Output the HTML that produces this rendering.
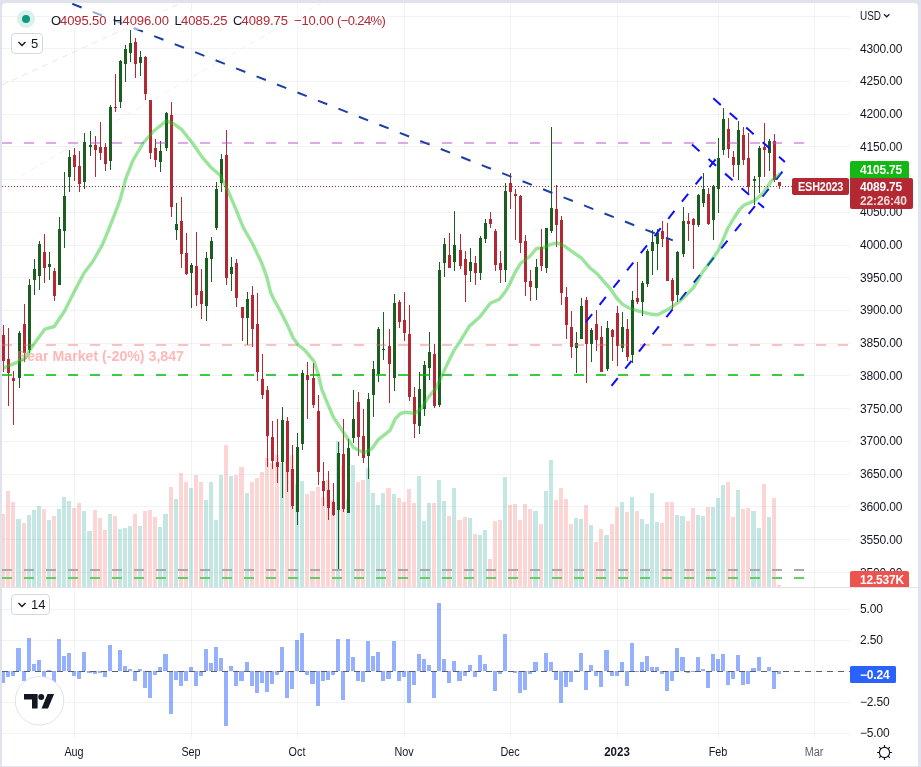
<!DOCTYPE html>
<html lang="en">
<head>
<meta charset="utf-8">
<title>ESH2023 daily chart</title>
<style>
html,body{margin:0;padding:0}
body{width:921px;height:767px;background:#e0e3eb;position:relative;overflow:hidden;font-family:"Liberation Sans",sans-serif;color:#131722}
#card{position:absolute;left:2px;top:3px;width:916px;height:763px;background:#fff;border-radius:4px 4px 0 0}
#chart{position:absolute;left:0;top:0;width:921px;height:767px}
.t{position:absolute;white-space:nowrap;font-size:12px;line-height:15px;letter-spacing:-0.17px}
.ax{color:#131722}
.tm{color:#131722;letter-spacing:0}
.b{font-weight:bold}
.box{position:absolute;color:#fff;font-weight:bold;font-size:12px;line-height:15px;white-space:nowrap;box-sizing:border-box;letter-spacing:-0.2px}
#legend{position:absolute;left:49px;top:10px;height:20px;width:340px;background:rgba(255,255,255,0.55)}
#legend span{position:absolute;top:3px;font-size:13px;line-height:16px;white-space:nowrap;letter-spacing:-0.1px}
.k{color:#131722}
.v{color:#b22833}
.sq{display:inline-block;transform-origin:0 50%}
.btn{position:absolute;box-sizing:border-box;border:1px solid #d5d8e0;border-radius:4px;background:#fff;height:21px;font-size:13px;line-height:19px;color:#131722}
.btn svg{position:absolute;left:4.5px;top:6px}
.btn span{position:absolute;top:0}
</style>
</head>
<body>
<div id="card"></div>
<svg id="chart" width="921" height="767" viewBox="0 0 921 767">
<defs>
<clipPath id="cm"><rect x="2" y="3" width="848" height="584"/></clipPath>
</defs>
<g fill="#2a2e39" fill-opacity="0.06" shape-rendering="crispEdges"><rect x="2" y="16" width="848" height="1"/><rect x="2" y="48" width="848" height="1"/><rect x="2" y="81" width="848" height="1"/><rect x="2" y="114" width="848" height="1"/><rect x="2" y="146" width="848" height="1"/><rect x="2" y="179" width="848" height="1"/><rect x="2" y="212" width="848" height="1"/><rect x="2" y="245" width="848" height="1"/><rect x="2" y="277" width="848" height="1"/><rect x="2" y="310" width="848" height="1"/><rect x="2" y="343" width="848" height="1"/><rect x="2" y="375" width="848" height="1"/><rect x="2" y="408" width="848" height="1"/><rect x="2" y="441" width="848" height="1"/><rect x="2" y="474" width="848" height="1"/><rect x="2" y="506" width="848" height="1"/><rect x="2" y="539" width="848" height="1"/><rect x="2" y="572" width="848" height="1"/><rect x="2" y="609" width="848" height="1"/><rect x="2" y="640" width="848" height="1"/><rect x="2" y="671" width="848" height="1"/><rect x="2" y="702" width="848" height="1"/><rect x="2" y="733" width="848" height="1"/><rect x="74" y="3" width="1" height="735"/><rect x="191" y="3" width="1" height="735"/><rect x="297" y="3" width="1" height="735"/><rect x="404" y="3" width="1" height="735"/><rect x="510" y="3" width="1" height="735"/><rect x="617" y="3" width="1" height="735"/><rect x="718" y="3" width="1" height="735"/><rect x="814" y="3" width="1" height="735"/></g>
<g shape-rendering="crispEdges"><g fill="#26a69a" fill-opacity="0.27"><rect x="16" y="519" width="5" height="68"/><rect x="27" y="515" width="4" height="72"/><rect x="32" y="510" width="4" height="77"/><rect x="37" y="506" width="4" height="81"/><rect x="47" y="520" width="4" height="67"/><rect x="57" y="509" width="4" height="78"/><rect x="62" y="497" width="4" height="90"/><rect x="67" y="501" width="4" height="86"/><rect x="82" y="511" width="4" height="76"/><rect x="87" y="531" width="5" height="56"/><rect x="108" y="514" width="4" height="73"/><rect x="118" y="529" width="4" height="58"/><rect x="123" y="528" width="4" height="59"/><rect x="128" y="526" width="4" height="61"/><rect x="138" y="526" width="4" height="61"/><rect x="158" y="527" width="4" height="60"/><rect x="163" y="514" width="5" height="73"/><rect x="174" y="499" width="4" height="88"/><rect x="189" y="488" width="4" height="99"/><rect x="204" y="500" width="4" height="87"/><rect x="209" y="482" width="4" height="105"/><rect x="214" y="520" width="4" height="67"/><rect x="219" y="475" width="4" height="112"/><rect x="229" y="476" width="4" height="111"/><rect x="245" y="493" width="4" height="94"/><rect x="280" y="463" width="4" height="124"/><rect x="295" y="484" width="4" height="103"/><rect x="300" y="481" width="4" height="106"/><rect x="336" y="441" width="4" height="146"/><rect x="346" y="499" width="4" height="88"/><rect x="351" y="465" width="4" height="122"/><rect x="366" y="468" width="4" height="119"/><rect x="371" y="493" width="4" height="94"/><rect x="376" y="505" width="4" height="82"/><rect x="381" y="493" width="4" height="94"/><rect x="392" y="494" width="4" height="93"/><rect x="417" y="476" width="4" height="111"/><rect x="422" y="521" width="4" height="66"/><rect x="427" y="503" width="4" height="84"/><rect x="437" y="480" width="4" height="107"/><rect x="442" y="501" width="4" height="86"/><rect x="452" y="488" width="4" height="99"/><rect x="468" y="518" width="4" height="69"/><rect x="478" y="535" width="4" height="52"/><rect x="483" y="530" width="4" height="57"/><rect x="503" y="477" width="4" height="110"/><rect x="533" y="511" width="5" height="76"/><rect x="544" y="491" width="4" height="96"/><rect x="549" y="460" width="4" height="127"/><rect x="574" y="518" width="4" height="69"/><rect x="579" y="519" width="4" height="68"/><rect x="589" y="525" width="4" height="62"/><rect x="604" y="535" width="5" height="52"/><rect x="620" y="502" width="4" height="85"/><rect x="630" y="497" width="4" height="90"/><rect x="640" y="519" width="4" height="68"/><rect x="645" y="524" width="4" height="63"/><rect x="650" y="493" width="4" height="94"/><rect x="655" y="522" width="4" height="65"/><rect x="675" y="515" width="4" height="72"/><rect x="680" y="516" width="5" height="71"/><rect x="696" y="515" width="4" height="72"/><rect x="701" y="516" width="4" height="71"/><rect x="711" y="507" width="4" height="80"/><rect x="716" y="498" width="4" height="89"/><rect x="721" y="485" width="4" height="102"/><rect x="736" y="490" width="4" height="97"/><rect x="751" y="511" width="5" height="76"/><rect x="757" y="528" width="4" height="59"/><rect x="767" y="517" width="4" height="70"/></g><g fill="#ef5350" fill-opacity="0.24"><rect x="2" y="514" width="3" height="73"/><rect x="6" y="491" width="4" height="96"/><rect x="11" y="502" width="4" height="85"/><rect x="22" y="523" width="4" height="64"/><rect x="42" y="509" width="4" height="78"/><rect x="52" y="516" width="4" height="71"/><rect x="72" y="508" width="4" height="79"/><rect x="77" y="503" width="4" height="84"/><rect x="93" y="510" width="4" height="77"/><rect x="98" y="518" width="4" height="69"/><rect x="103" y="530" width="4" height="57"/><rect x="113" y="516" width="4" height="71"/><rect x="133" y="514" width="4" height="73"/><rect x="143" y="511" width="4" height="76"/><rect x="148" y="510" width="4" height="77"/><rect x="153" y="517" width="4" height="70"/><rect x="169" y="487" width="4" height="100"/><rect x="179" y="473" width="4" height="114"/><rect x="184" y="482" width="4" height="105"/><rect x="194" y="475" width="4" height="112"/><rect x="199" y="482" width="4" height="105"/><rect x="224" y="445" width="4" height="142"/><rect x="234" y="475" width="4" height="112"/><rect x="239" y="467" width="5" height="120"/><rect x="250" y="482" width="4" height="105"/><rect x="255" y="478" width="4" height="109"/><rect x="260" y="472" width="4" height="115"/><rect x="265" y="458" width="4" height="129"/><rect x="270" y="463" width="4" height="124"/><rect x="275" y="455" width="4" height="132"/><rect x="285" y="460" width="4" height="127"/><rect x="290" y="455" width="4" height="132"/><rect x="305" y="494" width="4" height="93"/><rect x="310" y="491" width="5" height="96"/><rect x="316" y="487" width="4" height="100"/><rect x="321" y="497" width="4" height="90"/><rect x="326" y="480" width="4" height="107"/><rect x="331" y="500" width="4" height="87"/><rect x="341" y="466" width="4" height="121"/><rect x="356" y="482" width="4" height="105"/><rect x="361" y="480" width="4" height="107"/><rect x="386" y="488" width="5" height="99"/><rect x="397" y="498" width="4" height="89"/><rect x="402" y="502" width="4" height="85"/><rect x="407" y="489" width="4" height="98"/><rect x="412" y="503" width="4" height="84"/><rect x="432" y="503" width="4" height="84"/><rect x="447" y="516" width="4" height="71"/><rect x="457" y="520" width="5" height="67"/><rect x="463" y="517" width="4" height="70"/><rect x="473" y="534" width="4" height="53"/><rect x="488" y="559" width="4" height="28"/><rect x="493" y="521" width="4" height="66"/><rect x="498" y="520" width="4" height="67"/><rect x="508" y="505" width="4" height="82"/><rect x="513" y="504" width="4" height="83"/><rect x="518" y="520" width="4" height="67"/><rect x="523" y="504" width="4" height="83"/><rect x="528" y="509" width="4" height="78"/><rect x="539" y="524" width="4" height="63"/><rect x="554" y="500" width="4" height="87"/><rect x="559" y="488" width="4" height="99"/><rect x="564" y="499" width="4" height="88"/><rect x="569" y="524" width="4" height="63"/><rect x="584" y="505" width="4" height="82"/><rect x="594" y="542" width="4" height="45"/><rect x="599" y="529" width="4" height="58"/><rect x="610" y="524" width="4" height="63"/><rect x="615" y="507" width="4" height="80"/><rect x="625" y="512" width="4" height="75"/><rect x="635" y="511" width="4" height="76"/><rect x="660" y="523" width="4" height="64"/><rect x="665" y="502" width="4" height="85"/><rect x="670" y="502" width="4" height="85"/><rect x="686" y="521" width="4" height="66"/><rect x="691" y="508" width="4" height="79"/><rect x="706" y="507" width="4" height="80"/><rect x="726" y="482" width="4" height="105"/><rect x="731" y="517" width="4" height="70"/><rect x="741" y="509" width="4" height="78"/><rect x="746" y="508" width="4" height="79"/><rect x="762" y="484" width="4" height="103"/><rect x="772" y="498" width="4" height="89"/><rect x="777" y="585" width="4" height="2"/></g></g>
<g stroke-width="1" stroke-dasharray="6 5" fill="none" clip-path="url(#cm)"><line x1="2" y1="85" x2="181" y2="3" stroke="#e7e7e7"/><line x1="2" y1="186.6" x2="321" y2="3" stroke="#f1f1f1"/></g>
<g shape-rendering="crispEdges" clip-path="url(#cm)"><g fill="#1b5e20"><rect x="19" y="331" width="1" height="57"/><rect x="18" y="333" width="3" height="45"/><rect x="29" y="279" width="1" height="74"/><rect x="28" y="285" width="3" height="65"/><rect x="34" y="259" width="1" height="36"/><rect x="33" y="269" width="3" height="11"/><rect x="39" y="241" width="1" height="49"/><rect x="38" y="244" width="3" height="32"/><rect x="49" y="252" width="1" height="28"/><rect x="48" y="264" width="3" height="3"/><rect x="59" y="217" width="1" height="68"/><rect x="58" y="229" width="3" height="56"/><rect x="64" y="172" width="1" height="76"/><rect x="63" y="196" width="3" height="35"/><rect x="69" y="150" width="1" height="42"/><rect x="68" y="157" width="3" height="20"/><rect x="84" y="133" width="1" height="56"/><rect x="83" y="142" width="3" height="40"/><rect x="90" y="131" width="1" height="25"/><rect x="89" y="145" width="3" height="2"/><rect x="110" y="105" width="1" height="65"/><rect x="109" y="107" width="3" height="54"/><rect x="120" y="60" width="1" height="48"/><rect x="119" y="61" width="3" height="41"/><rect x="125" y="45" width="1" height="37"/><rect x="124" y="49" width="3" height="15"/><rect x="130" y="30" width="1" height="32"/><rect x="129" y="43" width="3" height="10"/><rect x="140" y="51" width="1" height="25"/><rect x="139" y="57" width="3" height="6"/><rect x="160" y="141" width="1" height="31"/><rect x="159" y="151" width="3" height="11"/><rect x="166" y="112" width="1" height="39"/><rect x="165" y="113" width="3" height="35"/><rect x="176" y="203" width="1" height="37"/><rect x="175" y="224" width="3" height="6"/><rect x="191" y="263" width="1" height="45"/><rect x="190" y="265" width="3" height="8"/><rect x="206" y="252" width="1" height="69"/><rect x="205" y="258" width="3" height="48"/><rect x="211" y="237" width="1" height="45"/><rect x="210" y="241" width="3" height="18"/><rect x="216" y="182" width="1" height="48"/><rect x="215" y="189" width="3" height="39"/><rect x="221" y="154" width="1" height="38"/><rect x="220" y="159" width="3" height="24"/><rect x="231" y="257" width="1" height="34"/><rect x="230" y="267" width="3" height="7"/><rect x="247" y="292" width="1" height="53"/><rect x="246" y="299" width="3" height="19"/><rect x="282" y="407" width="1" height="91"/><rect x="281" y="420" width="3" height="42"/><rect x="297" y="433" width="1" height="92"/><rect x="296" y="447" width="3" height="65"/><rect x="302" y="370" width="1" height="80"/><rect x="301" y="373" width="3" height="71"/><rect x="338" y="442" width="1" height="127"/><rect x="337" y="453" width="3" height="57"/><rect x="348" y="439" width="1" height="74"/><rect x="347" y="448" width="3" height="65"/><rect x="353" y="390" width="1" height="53"/><rect x="352" y="419" width="3" height="19"/><rect x="368" y="393" width="1" height="86"/><rect x="367" y="399" width="3" height="57"/><rect x="373" y="361" width="1" height="56"/><rect x="372" y="369" width="3" height="26"/><rect x="378" y="327" width="1" height="55"/><rect x="377" y="329" width="3" height="45"/><rect x="383" y="312" width="1" height="48"/><rect x="382" y="349" width="3" height="1"/><rect x="394" y="294" width="1" height="97"/><rect x="393" y="303" width="3" height="75"/><rect x="419" y="372" width="1" height="62"/><rect x="418" y="389" width="3" height="37"/><rect x="424" y="361" width="1" height="55"/><rect x="423" y="365" width="3" height="44"/><rect x="429" y="332" width="1" height="48"/><rect x="428" y="352" width="3" height="16"/><rect x="439" y="262" width="1" height="145"/><rect x="438" y="270" width="3" height="135"/><rect x="444" y="238" width="1" height="39"/><rect x="443" y="244" width="3" height="19"/><rect x="454" y="211" width="1" height="60"/><rect x="453" y="245" width="3" height="17"/><rect x="470" y="248" width="1" height="34"/><rect x="469" y="262" width="3" height="9"/><rect x="480" y="236" width="1" height="44"/><rect x="479" y="238" width="3" height="35"/><rect x="485" y="219" width="1" height="24"/><rect x="484" y="223" width="3" height="16"/><rect x="505" y="183" width="1" height="99"/><rect x="504" y="191" width="3" height="79"/><rect x="536" y="259" width="1" height="41"/><rect x="535" y="267" width="3" height="21"/><rect x="546" y="228" width="1" height="45"/><rect x="545" y="228" width="3" height="40"/><rect x="551" y="127" width="1" height="106"/><rect x="550" y="208" width="3" height="23"/><rect x="576" y="332" width="1" height="41"/><rect x="575" y="343" width="3" height="5"/><rect x="581" y="298" width="1" height="41"/><rect x="580" y="306" width="3" height="33"/><rect x="591" y="328" width="1" height="34"/><rect x="590" y="330" width="3" height="14"/><rect x="607" y="321" width="1" height="50"/><rect x="606" y="328" width="3" height="41"/><rect x="622" y="312" width="1" height="40"/><rect x="621" y="327" width="3" height="21"/><rect x="632" y="291" width="1" height="72"/><rect x="631" y="300" width="3" height="55"/><rect x="642" y="281" width="1" height="35"/><rect x="641" y="283" width="3" height="19"/><rect x="647" y="249" width="1" height="38"/><rect x="646" y="251" width="3" height="33"/><rect x="652" y="230" width="1" height="45"/><rect x="651" y="242" width="3" height="9"/><rect x="657" y="229" width="1" height="41"/><rect x="656" y="233" width="3" height="11"/><rect x="677" y="251" width="1" height="51"/><rect x="676" y="252" width="3" height="43"/><rect x="683" y="207" width="1" height="50"/><rect x="682" y="221" width="3" height="33"/><rect x="698" y="194" width="1" height="33"/><rect x="697" y="195" width="3" height="30"/><rect x="703" y="173" width="1" height="34"/><rect x="702" y="189" width="3" height="14"/><rect x="713" y="185" width="1" height="55"/><rect x="712" y="186" width="3" height="34"/><rect x="718" y="138" width="1" height="75"/><rect x="717" y="158" width="3" height="31"/><rect x="723" y="108" width="1" height="47"/><rect x="722" y="119" width="3" height="31"/><rect x="738" y="121" width="1" height="59"/><rect x="737" y="130" width="3" height="35"/><rect x="754" y="176" width="1" height="29"/><rect x="753" y="179" width="3" height="2"/><rect x="759" y="146" width="1" height="47"/><rect x="758" y="148" width="3" height="29"/><rect x="769" y="139" width="1" height="32"/><rect x="768" y="141" width="3" height="12"/></g><g fill="#b22833"><rect x="3" y="325" width="1" height="47"/><rect x="2" y="335" width="3" height="26"/><rect x="8" y="328" width="1" height="78"/><rect x="7" y="359" width="3" height="14"/><rect x="13" y="371" width="1" height="54"/><rect x="12" y="378" width="3" height="3"/><rect x="24" y="304" width="1" height="58"/><rect x="23" y="324" width="3" height="29"/><rect x="44" y="234" width="1" height="49"/><rect x="43" y="252" width="3" height="16"/><rect x="54" y="268" width="1" height="33"/><rect x="53" y="271" width="3" height="25"/><rect x="74" y="148" width="1" height="33"/><rect x="73" y="155" width="3" height="12"/><rect x="79" y="151" width="1" height="41"/><rect x="78" y="166" width="3" height="18"/><rect x="95" y="136" width="1" height="41"/><rect x="94" y="145" width="3" height="5"/><rect x="100" y="122" width="1" height="38"/><rect x="99" y="147" width="3" height="6"/><rect x="105" y="143" width="1" height="28"/><rect x="104" y="147" width="3" height="17"/><rect x="115" y="74" width="1" height="38"/><rect x="114" y="107" width="3" height="1"/><rect x="135" y="38" width="1" height="40"/><rect x="134" y="42" width="3" height="22"/><rect x="145" y="56" width="1" height="44"/><rect x="144" y="57" width="3" height="37"/><rect x="150" y="100" width="1" height="59"/><rect x="149" y="100" width="3" height="53"/><rect x="155" y="139" width="1" height="28"/><rect x="154" y="148" width="3" height="12"/><rect x="171" y="102" width="1" height="115"/><rect x="170" y="115" width="3" height="92"/><rect x="181" y="197" width="1" height="71"/><rect x="180" y="221" width="3" height="33"/><rect x="186" y="233" width="1" height="42"/><rect x="185" y="253" width="3" height="21"/><rect x="196" y="232" width="1" height="74"/><rect x="195" y="266" width="3" height="29"/><rect x="201" y="269" width="1" height="50"/><rect x="200" y="291" width="3" height="13"/><rect x="226" y="130" width="1" height="155"/><rect x="225" y="155" width="3" height="123"/><rect x="236" y="259" width="1" height="48"/><rect x="235" y="263" width="3" height="35"/><rect x="242" y="307" width="1" height="34"/><rect x="241" y="307" width="3" height="11"/><rect x="252" y="286" width="1" height="61"/><rect x="251" y="295" width="3" height="34"/><rect x="257" y="293" width="1" height="88"/><rect x="256" y="324" width="3" height="48"/><rect x="262" y="354" width="1" height="45"/><rect x="261" y="379" width="3" height="16"/><rect x="267" y="386" width="1" height="81"/><rect x="266" y="390" width="3" height="46"/><rect x="272" y="421" width="1" height="48"/><rect x="271" y="437" width="3" height="24"/><rect x="277" y="419" width="1" height="64"/><rect x="276" y="462" width="3" height="5"/><rect x="287" y="417" width="1" height="75"/><rect x="286" y="421" width="3" height="51"/><rect x="292" y="445" width="1" height="64"/><rect x="291" y="469" width="3" height="37"/><rect x="307" y="362" width="1" height="57"/><rect x="306" y="375" width="3" height="5"/><rect x="313" y="363" width="1" height="45"/><rect x="312" y="378" width="3" height="27"/><rect x="318" y="395" width="1" height="90"/><rect x="317" y="411" width="3" height="61"/><rect x="323" y="462" width="1" height="44"/><rect x="322" y="481" width="3" height="10"/><rect x="328" y="471" width="1" height="49"/><rect x="327" y="490" width="3" height="18"/><rect x="333" y="483" width="1" height="33"/><rect x="332" y="502" width="3" height="13"/><rect x="343" y="419" width="1" height="93"/><rect x="342" y="454" width="3" height="55"/><rect x="358" y="392" width="1" height="64"/><rect x="357" y="402" width="3" height="35"/><rect x="363" y="409" width="1" height="54"/><rect x="362" y="436" width="3" height="22"/><rect x="389" y="329" width="1" height="74"/><rect x="388" y="346" width="3" height="18"/><rect x="399" y="300" width="1" height="28"/><rect x="398" y="302" width="3" height="20"/><rect x="404" y="292" width="1" height="49"/><rect x="403" y="320" width="3" height="13"/><rect x="409" y="305" width="1" height="96"/><rect x="408" y="334" width="3" height="63"/><rect x="414" y="387" width="1" height="51"/><rect x="413" y="397" width="3" height="27"/><rect x="434" y="344" width="1" height="64"/><rect x="433" y="354" width="3" height="52"/><rect x="449" y="233" width="1" height="35"/><rect x="448" y="255" width="3" height="13"/><rect x="460" y="234" width="1" height="35"/><rect x="459" y="250" width="3" height="16"/><rect x="465" y="251" width="1" height="51"/><rect x="464" y="259" width="3" height="16"/><rect x="475" y="256" width="1" height="29"/><rect x="474" y="263" width="3" height="10"/><rect x="490" y="212" width="1" height="16"/><rect x="489" y="219" width="3" height="5"/><rect x="495" y="229" width="1" height="42"/><rect x="494" y="231" width="3" height="34"/><rect x="500" y="251" width="1" height="32"/><rect x="499" y="263" width="3" height="7"/><rect x="510" y="173" width="1" height="36"/><rect x="509" y="183" width="3" height="9"/><rect x="515" y="189" width="1" height="51"/><rect x="514" y="194" width="3" height="2"/><rect x="520" y="195" width="1" height="58"/><rect x="519" y="196" width="3" height="47"/><rect x="525" y="235" width="1" height="61"/><rect x="524" y="241" width="3" height="41"/><rect x="530" y="270" width="1" height="31"/><rect x="529" y="281" width="3" height="6"/><rect x="541" y="229" width="1" height="42"/><rect x="540" y="247" width="3" height="19"/><rect x="556" y="185" width="1" height="62"/><rect x="555" y="209" width="3" height="16"/><rect x="561" y="216" width="1" height="89"/><rect x="560" y="220" width="3" height="73"/><rect x="566" y="287" width="1" height="52"/><rect x="565" y="297" width="3" height="28"/><rect x="571" y="311" width="1" height="47"/><rect x="570" y="327" width="3" height="20"/><rect x="586" y="297" width="1" height="86"/><rect x="585" y="300" width="3" height="44"/><rect x="596" y="310" width="1" height="41"/><rect x="595" y="324" width="3" height="16"/><rect x="601" y="326" width="1" height="46"/><rect x="600" y="337" width="3" height="35"/><rect x="612" y="329" width="1" height="32"/><rect x="611" y="330" width="3" height="7"/><rect x="617" y="306" width="1" height="60"/><rect x="616" y="313" width="3" height="33"/><rect x="627" y="319" width="1" height="42"/><rect x="626" y="329" width="3" height="28"/><rect x="637" y="262" width="1" height="42"/><rect x="636" y="298" width="3" height="4"/><rect x="662" y="221" width="1" height="26"/><rect x="661" y="231" width="3" height="8"/><rect x="667" y="223" width="1" height="58"/><rect x="666" y="239" width="3" height="42"/><rect x="672" y="278" width="1" height="31"/><rect x="671" y="280" width="3" height="21"/><rect x="688" y="213" width="1" height="28"/><rect x="687" y="221" width="3" height="3"/><rect x="693" y="218" width="1" height="51"/><rect x="692" y="219" width="3" height="6"/><rect x="708" y="188" width="1" height="37"/><rect x="707" y="194" width="3" height="30"/><rect x="728" y="118" width="1" height="40"/><rect x="727" y="129" width="3" height="20"/><rect x="733" y="151" width="1" height="26"/><rect x="732" y="157" width="3" height="8"/><rect x="743" y="127" width="1" height="38"/><rect x="742" y="135" width="3" height="25"/><rect x="748" y="133" width="1" height="60"/><rect x="747" y="158" width="3" height="29"/><rect x="764" y="123" width="1" height="54"/><rect x="763" y="147" width="3" height="3"/><rect x="774" y="134" width="1" height="48"/><rect x="773" y="141" width="3" height="39"/><rect x="779" y="182" width="1" height="7"/><rect x="778" y="182" width="3" height="4"/></g></g>
<g shape-rendering="crispEdges">
<line x1="2" y1="570" x2="805" y2="570" stroke="#a9a9a9" stroke-width="2" stroke-dasharray="10 12" stroke-opacity="1"/>
<line x1="2" y1="578" x2="805" y2="578" stroke="#66cc66" stroke-width="2" stroke-dasharray="10 12" stroke-opacity="1"/>
<line x1="2" y1="143" x2="805" y2="143" stroke="#ba55d3" stroke-width="2" stroke-dasharray="10 12" stroke-opacity="0.5"/>
<line x1="2" y1="345" x2="850" y2="345" stroke="#fc6464" stroke-width="2" stroke-dasharray="10 12" stroke-opacity="0.4"/>
<line x1="2" y1="375" x2="805" y2="375" stroke="#00b900" stroke-width="2" stroke-dasharray="10 12" stroke-opacity="0.75"/>
</g>
<text x="17" y="361" font-family="Liberation Sans, sans-serif" font-weight="bold" font-size="14.5" fill="#ff7070" fill-opacity="0.5" textLength="167" lengthAdjust="spacingAndGlyphs">Bear Market (-20%) 3,847</text>
<g fill="none" stroke-width="2" stroke-dasharray="10 12" clip-path="url(#cm)">
<line x1="72.3" y1="3.8" x2="672.8" y2="240.4" stroke="#1c3fa6"/>
<g stroke="#0d0dff">
<line x1="611.5" y1="385.9" x2="783.2" y2="170.7" />
<line x1="585.9" y1="322" x2="716.4" y2="158.4" />
<line x1="713.3" y1="98.3" x2="784.9" y2="161.9" />
<line x1="692" y1="144.6" x2="764" y2="207.8" />
</g></g>
<polyline points="3.3,368.3 9.2,365.6 19.0,361.7 25.5,357.8 30.7,348.7 37.2,339.6 45.0,329.1 54.2,326.5 64.6,311.0 73.7,292.7 83.9,273.2 92.5,262.0 102.2,245.2 108.5,230.0 115.0,213.3 120.1,199.8 125.9,178.3 132.9,160.5 143.2,143.0 153.7,131.0 166.4,120.9 174.2,124.1 181.7,129.5 192.4,143.0 201.6,156.4 210.7,167.2 219.8,175.0 227.7,190.0 235.5,208.3 243.2,227.4 252.4,243.3 261.6,262.8 266.8,277.2 270.7,292.8 274.2,300.0 280.0,310.4 287.9,326.1 293.1,337.8 298.3,345.0 304.8,350.2 314.0,361.3 317.9,373.0 321.8,389.3 326.7,401.5 333.5,417.4 341.3,429.1 347.9,439.0 353.5,447.4 364.0,452.9 371.8,448.7 378.3,439.6 390.0,430.4 395.3,418.7 400.5,413.5 405.7,412.2 414.8,413.5 421.4,408.3 427.9,397.8 435.7,388.7 441.7,376.0 449.2,360.0 453.7,350.9 459.7,342.0 465.7,332.2 469.4,326.1 479.8,317.0 490.3,303.3 499.4,299.3 505.9,290.9 510.2,283.0 515.2,272.0 520.7,263.4 530.2,256.0 536.4,248.5 542.9,248.0 550.7,244.4 557.2,242.8 563.7,245.7 572.9,252.2 581.4,258.0 589.8,267.8 597.7,274.3 604.7,282.5 610.2,288.5 616.2,297.5 622.4,304.1 629.0,308.0 638.7,311.1 651.8,314.3 657.7,314.7 668.7,309.1 680.5,300.7 693.5,287.6 702.7,272.0 714.4,256.3 718.7,249.8 727.7,228.5 734.0,218.0 739.2,210.0 744.2,205.0 754.2,200.9 763.3,193.0 771.1,181.3 780.3,173.5" fill="none" stroke="#1ac41b" stroke-opacity="0.44" stroke-width="3.4" stroke-linejoin="round" stroke-linecap="butt"/>
<line x1="2" y1="186.5" x2="792" y2="186.5" stroke="#b22833" stroke-width="1" stroke-dasharray="1 2" shape-rendering="crispEdges"/>
<g fill="#2962ff" fill-opacity="0.5" shape-rendering="crispEdges"><rect x="2" y="671" width="3" height="12"/><rect x="6" y="671" width="4" height="6"/><rect x="11" y="671" width="4" height="5"/><rect x="16" y="648" width="5" height="23"/><rect x="22" y="671" width="4" height="10"/><rect x="27" y="638" width="4" height="33"/><rect x="32" y="664" width="4" height="7"/><rect x="37" y="660" width="4" height="11"/><rect x="42" y="671" width="4" height="12"/><rect x="47" y="670" width="4" height="1"/><rect x="52" y="671" width="4" height="16"/><rect x="57" y="639" width="4" height="32"/><rect x="62" y="656" width="4" height="15"/><rect x="67" y="653" width="4" height="18"/><rect x="72" y="671" width="4" height="5"/><rect x="77" y="671" width="4" height="8"/><rect x="82" y="652" width="4" height="19"/><rect x="87" y="671" width="5" height="2"/><rect x="93" y="671" width="4" height="3"/><rect x="98" y="671" width="4" height="2"/><rect x="103" y="671" width="4" height="6"/><rect x="108" y="645" width="4" height="26"/><rect x="113" y="671" width="4" height="1"/><rect x="118" y="650" width="4" height="21"/><rect x="123" y="666" width="4" height="5"/><rect x="128" y="669" width="4" height="2"/><rect x="133" y="671" width="4" height="10"/><rect x="138" y="669" width="4" height="2"/><rect x="143" y="671" width="4" height="17"/><rect x="148" y="671" width="4" height="27"/><rect x="153" y="671" width="4" height="4"/><rect x="158" y="667" width="4" height="4"/><rect x="163" y="654" width="5" height="17"/><rect x="169" y="671" width="4" height="43"/><rect x="174" y="671" width="4" height="9"/><rect x="179" y="671" width="4" height="15"/><rect x="184" y="671" width="4" height="10"/><rect x="189" y="667" width="4" height="4"/><rect x="194" y="671" width="4" height="15"/><rect x="199" y="671" width="4" height="5"/><rect x="204" y="649" width="4" height="22"/><rect x="209" y="663" width="4" height="8"/><rect x="214" y="647" width="4" height="24"/><rect x="219" y="658" width="4" height="13"/><rect x="224" y="671" width="4" height="55"/><rect x="229" y="666" width="4" height="5"/><rect x="234" y="671" width="4" height="15"/><rect x="239" y="671" width="5" height="10"/><rect x="245" y="662" width="4" height="9"/><rect x="250" y="671" width="4" height="15"/><rect x="255" y="671" width="4" height="22"/><rect x="260" y="671" width="4" height="12"/><rect x="265" y="671" width="4" height="21"/><rect x="270" y="671" width="4" height="13"/><rect x="275" y="671" width="4" height="4"/><rect x="280" y="647" width="4" height="24"/><rect x="285" y="671" width="4" height="27"/><rect x="290" y="671" width="4" height="18"/><rect x="295" y="640" width="4" height="31"/><rect x="300" y="633" width="4" height="38"/><rect x="305" y="671" width="4" height="4"/><rect x="310" y="671" width="5" height="13"/><rect x="316" y="671" width="4" height="35"/><rect x="321" y="671" width="4" height="10"/><rect x="326" y="671" width="4" height="9"/><rect x="331" y="671" width="4" height="4"/><rect x="336" y="639" width="4" height="32"/><rect x="341" y="671" width="4" height="29"/><rect x="346" y="639" width="4" height="32"/><rect x="351" y="657" width="4" height="14"/><rect x="356" y="671" width="4" height="10"/><rect x="361" y="671" width="4" height="11"/><rect x="366" y="641" width="4" height="30"/><rect x="371" y="656" width="4" height="15"/><rect x="376" y="652" width="4" height="19"/><rect x="381" y="671" width="4" height="10"/><rect x="386" y="671" width="5" height="8"/><rect x="392" y="641" width="4" height="30"/><rect x="397" y="671" width="4" height="10"/><rect x="402" y="671" width="4" height="6"/><rect x="407" y="671" width="4" height="32"/><rect x="412" y="671" width="4" height="14"/><rect x="417" y="654" width="4" height="17"/><rect x="422" y="659" width="4" height="12"/><rect x="427" y="665" width="4" height="6"/><rect x="432" y="671" width="4" height="27"/><rect x="437" y="603" width="4" height="68"/><rect x="442" y="659" width="4" height="12"/><rect x="447" y="671" width="4" height="12"/><rect x="452" y="661" width="4" height="10"/><rect x="457" y="671" width="5" height="10"/><rect x="463" y="671" width="4" height="5"/><rect x="468" y="665" width="4" height="6"/><rect x="473" y="671" width="4" height="6"/><rect x="478" y="655" width="4" height="16"/><rect x="483" y="664" width="4" height="7"/><rect x="488" y="671" width="4" height="1"/><rect x="493" y="671" width="4" height="20"/><rect x="498" y="671" width="4" height="3"/><rect x="503" y="634" width="4" height="37"/><rect x="508" y="671" width="4" height="1"/><rect x="513" y="671" width="4" height="2"/><rect x="518" y="671" width="4" height="22"/><rect x="523" y="671" width="4" height="19"/><rect x="528" y="671" width="4" height="3"/><rect x="533" y="662" width="5" height="9"/><rect x="544" y="653" width="4" height="18"/><rect x="549" y="662" width="4" height="9"/><rect x="554" y="671" width="4" height="9"/><rect x="559" y="671" width="4" height="32"/><rect x="564" y="671" width="4" height="16"/><rect x="569" y="671" width="4" height="11"/><rect x="574" y="670" width="4" height="1"/><rect x="579" y="653" width="4" height="18"/><rect x="584" y="671" width="4" height="19"/><rect x="589" y="665" width="4" height="6"/><rect x="594" y="671" width="4" height="5"/><rect x="599" y="671" width="4" height="16"/><rect x="604" y="650" width="5" height="21"/><rect x="610" y="671" width="4" height="5"/><rect x="615" y="671" width="4" height="5"/><rect x="620" y="662" width="4" height="9"/><rect x="625" y="671" width="4" height="15"/><rect x="630" y="643" width="4" height="28"/><rect x="635" y="671" width="4" height="1"/><rect x="640" y="662" width="4" height="9"/><rect x="645" y="656" width="4" height="15"/><rect x="650" y="667" width="4" height="4"/><rect x="655" y="667" width="4" height="4"/><rect x="660" y="671" width="4" height="3"/><rect x="665" y="671" width="4" height="20"/><rect x="670" y="671" width="4" height="10"/><rect x="675" y="648" width="4" height="23"/><rect x="680" y="657" width="5" height="14"/><rect x="686" y="671" width="4" height="2"/><rect x="691" y="671" width="4" height="1"/><rect x="696" y="657" width="4" height="14"/><rect x="701" y="669" width="4" height="2"/><rect x="706" y="671" width="4" height="17"/><rect x="711" y="654" width="4" height="17"/><rect x="716" y="659" width="4" height="12"/><rect x="721" y="654" width="4" height="17"/><rect x="726" y="671" width="4" height="14"/><rect x="731" y="671" width="4" height="8"/><rect x="736" y="655" width="4" height="16"/><rect x="741" y="671" width="4" height="14"/><rect x="746" y="671" width="4" height="13"/><rect x="751" y="668" width="5" height="3"/><rect x="757" y="657" width="4" height="14"/><rect x="762" y="671" width="4" height="1"/><rect x="767" y="667" width="4" height="4"/><rect x="772" y="671" width="4" height="18"/><rect x="777" y="671" width="4" height="3"/></g>
<line x1="2" y1="671.5" x2="850" y2="671.5" stroke="#5d606b" stroke-width="1" stroke-dasharray="5.5 5.5" shape-rendering="crispEdges"/>
<rect x="2" y="587" width="916" height="1" fill="#e0e3eb" shape-rendering="crispEdges"/>
<!-- status dot -->
<circle cx="26" cy="19" r="9" fill="#d9f0ed"/>
<circle cx="26" cy="19" r="4" fill="#0e9981"/>
<!-- tradingview logo -->
<circle cx="39.5" cy="700.8" r="24.3" fill="#ffffff" stroke="#e0e3eb" stroke-width="1"/>
<g fill="#131722">
<path d="M24 694h13.6v14.6h-5.6v-9h-8z"/>
<circle cx="41.2" cy="697" r="3"/>
<path d="M47.5 694h6.6l-6.1 14.6h-6.5z"/>
</g>
<!-- gear -->
<g stroke="#131722" fill="none" stroke-width="1.15">
<circle cx="884.5" cy="752.5" r="5.1"/>
<path d="M884.5 745v2.5M884.5 757.5v2.5M877 752.5h2.5M889.5 752.5h2.5M879.2 747.2l1.7 1.7M888.1 756.1l1.7 1.7M879.2 757.8l1.7-1.7M888.1 748.9l1.7-1.7"/>
</g>
<!-- USD chevron -->
<path d="M884 14.2l2.7 2.6 2.7-2.600" stroke="#131722" stroke-width="1.2" fill="none"/>
</svg>
<div id="legend">
<span class="k" style="left:2px">O</span><span class="v" style="left:11px">4095.50</span>
<span class="k" style="left:64px">H</span><span class="v" style="left:73.5px">4096.00</span>
<span class="k" style="left:125.5px">L</span><span class="v" style="left:132px">4085.25</span>
<span class="k" style="left:184px">C</span><span class="v" style="left:192.5px">4089.75</span>
<span class="v" style="left:245px">−10.00</span>
<span class="v" style="left:288px;letter-spacing:-0.6px">(−0.24%)</span>
</div>
<div class="btn" style="left:11px;top:33px;width:32px"><svg width="10" height="8" viewBox="0 0 10 8"><path d="M1.5 2l3.5 3.5 3.5-3.500" stroke="#131722" stroke-width="1.4" fill="none"/></svg><span style="left:19px">5</span></div>
<div class="btn" style="left:11px;top:594px;width:39px"><svg width="10" height="8" viewBox="0 0 10 8"><path d="M1.5 2l3.500 3.500 3.500-3.500" stroke="#131722" stroke-width="1.4" fill="none"/></svg><span style="left:19px">14</span></div>
<div class="t" style="left:860px;top:9px;letter-spacing:0;transform:scaleX(0.83);transform-origin:0 50%">USD</div>
<div class="t ax" style="left:860px;top:42px;">4300.00</div>
<div class="t ax" style="left:860px;top:74px;">4250.00</div>
<div class="t ax" style="left:860px;top:107px;">4200.00</div>
<div class="t ax" style="left:860px;top:140px;">4150.00</div>
<div class="t ax" style="left:860px;top:172px;">4100.00</div>
<div class="t ax" style="left:860px;top:205px;">4050.00</div>
<div class="t ax" style="left:860px;top:238px;">4000.00</div>
<div class="t ax" style="left:860px;top:271px;">3950.00</div>
<div class="t ax" style="left:860px;top:303px;">3900.00</div>
<div class="t ax" style="left:860px;top:336px;">3850.00</div>
<div class="t ax" style="left:860px;top:369px;">3800.00</div>
<div class="t ax" style="left:860px;top:402px;">3750.00</div>
<div class="t ax" style="left:860px;top:434px;">3700.00</div>
<div class="t ax" style="left:860px;top:467px;">3650.00</div>
<div class="t ax" style="left:860px;top:500px;">3600.00</div>
<div class="t ax" style="left:860px;top:533px;">3550.00</div>
<div class="t ax" style="left:860px;top:566px;">3500.00</div>
<div class="t ax" style="left:860px;top:602px;">5.00</div>
<div class="t ax" style="left:860px;top:633px;">2.50</div>
<div class="t ax" style="left:860px;top:695px;">−2.50</div>
<div class="t ax" style="left:860px;top:726px;">−5.00</div>
<div class="t tm" style="left:43.5px;top:745px;width:60px;text-align:center;transform:scaleX(0.9)">Aug</div>
<div class="t tm" style="left:160.5px;top:745px;width:60px;text-align:center;transform:scaleX(0.9)">Sep</div>
<div class="t tm" style="left:266.5px;top:745px;width:60px;text-align:center;transform:scaleX(0.9)">Oct</div>
<div class="t tm" style="left:373.5px;top:745px;width:60px;text-align:center;transform:scaleX(0.9)">Nov</div>
<div class="t tm" style="left:479.5px;top:745px;width:60px;text-align:center;transform:scaleX(0.9)">Dec</div>
<div class="t tm b" style="left:586.5px;top:745px;width:60px;text-align:center;transform:scaleX(0.96)">2023</div>
<div class="t tm" style="left:687.5px;top:745px;width:60px;text-align:center;transform:scaleX(0.9)">Feb</div>
<div class="t tm" style="left:783.5px;top:745px;width:60px;text-align:center;transform:scaleX(0.9);color:#5d606b">Mar</div>
<div class="box" style="left:850px;top:161px;width:59px;height:17px;background:#14b814;border-radius:2px 2px 0 0;padding:2px 0 0 10px">4105.75</div>
<div class="box" style="left:792px;top:178px;width:57px;height:17px;background:#b22833;border-radius:2px;padding:2px 0 0 6px"><span class="sq" style="transform:scaleX(0.905)">ESH2023</span></div>
<div class="box" style="left:850px;top:178px;width:63px;height:31px;background:#b22833;border-radius:0 2px 2px 2px;padding:2px 0 0 10px;line-height:14px">4089.75<br><span style="opacity:.82;letter-spacing:-0.15px">22:26:40</span></div>
<div class="box" style="left:850px;top:571px;width:59px;height:16px;background:#ef5350;border-radius:2px 2px 0 0;padding:2px 0 0 10px;line-height:14px;overflow:hidden">12.537K</div>
<div class="box" style="left:850px;top:666px;width:46px;height:17px;background:#2962ff;border-radius:1.5px;padding:2px 0 0 10px">−0.24</div>
</body>
</html>
